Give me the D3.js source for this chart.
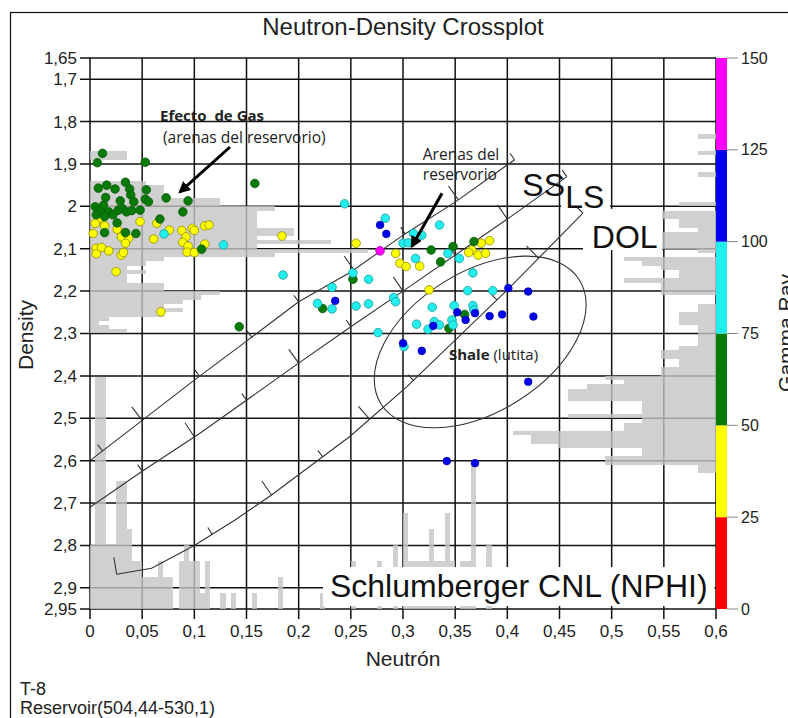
<!DOCTYPE html>
<html>
<head>
<meta charset="utf-8">
<script src="https://cdn.jsdelivr.net/npm/d3@7"></script>
<style>
  body { margin: 0; background: #fff; }
  svg { display: block; font-family: "Liberation Sans", Arial, sans-serif; }
  .note { font-family: "Open Sans", "Noto Sans", sans-serif; white-space: pre; }
</style>
</head>
<body>
<div id="chart"></div>
<script>
// axis ticks
var xTicks = [0, 0.05, 0.1, 0.15, 0.2, 0.25, 0.3, 0.35, 0.4, 0.45, 0.5, 0.55, 0.6];
var yTicks = [1.65, 1.7, 1.8, 1.9, 2, 2.1, 2.2, 2.3, 2.4, 2.5, 2.6, 2.7, 2.8, 2.9, 2.95];
var grTicks = [0, 25, 50, 75, 100, 125, 150];
var grBands = [0, 25, 50, 75, 100, 125];

// points [NPHI, RHOB] by gamma ray band
var ptsYellow = [[0.008,2.031],[0.005,2.040],[0.014,2.046],[0.003,2.064],[0.026,2.054],[0.030,2.072],[0.037,2.075],[0.034,2.087],[0.048,2.036],[0.064,2.040],[0.061,2.077],[0.076,2.056],[0.088,2.057],[0.092,2.072],[0.098,2.052],[0.100,2.057],[0.110,2.046],[0.114,2.044],[0.089,2.085],[0.094,2.094],[0.110,2.089],[0.093,2.108],[0.100,2.109],[0.006,2.099],[0.011,2.097],[0.006,2.112],[0.018,2.105],[0.030,2.115],[0.032,2.109],[0.025,2.154],[0.068,2.249],[0.184,2.070],[0.255,2.087],[0.293,2.111],[0.297,2.134],[0.303,2.142],[0.316,2.141],[0.375,2.087],[0.383,2.081],[0.366,2.103],[0.363,2.109],[0.372,2.115],[0.379,2.111],[0.325,2.197]];
var ptsGreen = [[0.012,1.875],[0.007,1.897],[0.053,1.896],[0.008,1.957],[0.016,1.950],[0.024,1.959],[0.034,1.943],[0.038,1.959],[0.039,1.973],[0.054,1.961],[0.015,1.979],[0.029,1.987],[0.042,1.989],[0.053,1.983],[0.056,1.989],[0.073,1.980],[0.094,1.987],[0.005,2.001],[0.010,2.009],[0.013,1.997],[0.018,2.013],[0.022,2.020],[0.027,2.009],[0.031,2.005],[0.035,2.013],[0.040,2.010],[0.048,2.009],[0.089,2.013],[0.006,2.020],[0.014,2.024],[0.026,2.039],[0.067,2.030],[0.014,2.062],[0.034,2.062],[0.044,2.064],[0.107,2.101],[0.143,2.284],[0.158,1.946],[0.252,2.172],[0.223,2.241],[0.327,2.103],[0.348,2.095],[0.336,2.131],[0.368,2.083],[0.359,2.255],[0.344,2.288]];
var ptsCyan = [[0.071,2.065],[0.128,2.091],[0.244,1.994],[0.185,2.162],[0.252,2.157],[0.267,2.172],[0.232,2.191],[0.218,2.229],[0.232,2.242],[0.255,2.235],[0.267,2.230],[0.283,2.028],[0.310,2.064],[0.335,2.044],[0.300,2.087],[0.305,2.086],[0.318,2.068],[0.343,2.111],[0.354,2.123],[0.312,2.123],[0.367,2.157],[0.362,2.199],[0.386,2.199],[0.291,2.215],[0.293,2.225],[0.328,2.238],[0.349,2.234],[0.367,2.234],[0.368,2.245],[0.313,2.278],[0.330,2.272],[0.335,2.280],[0.324,2.290],[0.347,2.268],[0.348,2.280],[0.276,2.298],[0.301,2.331]];
var ptsBlue = [[0.235,2.223],[0.278,2.044],[0.284,2.065],[0.401,2.193],[0.420,2.201],[0.425,2.260],[0.352,2.250],[0.360,2.268],[0.369,2.252],[0.383,2.259],[0.395,2.255],[0.329,2.282],[0.300,2.323],[0.318,2.341],[0.420,2.414],[0.342,2.601],[0.369,2.606]];
var ptsMagenta = [[0.278,2.105]];

// marginal histograms [bin start, count]
var histLeft = [[1.87,4],[1.88,4],[1.94,6],[1.95,8],[1.96,8],[1.97,8],[1.98,14],[1.99,14],[2.00,20],[2.01,18],[2.02,18],[2.03,18],[2.04,18],[2.05,22],[2.06,22],[2.07,18],[2.08,26],[2.09,18],[2.10,30],[2.11,20],[2.12,8],[2.13,6],[2.14,4],[2.15,6],[2.16,4],[2.17,4],[2.18,8],[2.19,8],[2.20,14],[2.21,12],[2.22,10],[2.23,8],[2.24,10],[2.25,8],[2.26,2],[2.27,1],[2.28,2],[2.29,4]];
var histRight = [[1.83,2],[1.87,2],[1.92,2],[1.99,4],[2.01,10],[2.02,6],[2.03,4],[2.04,4],[2.05,2],[2.06,6],[2.07,6],[2.08,6],[2.09,6],[2.10,2],[2.12,10],[2.13,8],[2.14,6],[2.15,4],[2.16,4],[2.17,10],[2.18,6],[2.19,6],[2.20,6],[2.23,2],[2.24,2],[2.25,4],[2.26,4],[2.27,4],[2.28,2],[2.29,2],[2.30,2],[2.31,2],[2.32,2],[2.33,4],[2.34,6],[2.35,6],[2.36,4],[2.37,4],[2.38,6],[2.39,6],[2.40,12],[2.41,10],[2.42,14],[2.43,16],[2.44,16],[2.45,16],[2.46,8],[2.47,8],[2.48,8],[2.49,16],[2.50,8],[2.51,10],[2.52,10],[2.53,22],[2.54,20],[2.55,20],[2.56,17],[2.57,8],[2.58,8],[2.59,12],[2.60,12],[2.61,2],[2.62,2]];
var histBottom = [[0.000,8],[0.005,29],[0.010,29],[0.015,8],[0.020,8],[0.025,16],[0.030,16],[0.035,10],[0.040,6],[0.045,6],[0.050,4],[0.055,4],[0.060,4],[0.065,6],[0.070,4],[0.075,4],[0.085,6],[0.090,8],[0.095,6],[0.100,6],[0.105,2],[0.110,6],[0.125,2],[0.135,2],[0.155,2],[0.180,4],[0.220,2],[0.250,6],[0.275,6],[0.290,8],[0.300,12],[0.305,6],[0.310,6],[0.315,6],[0.320,6],[0.325,10],[0.330,6],[0.335,6],[0.340,12],[0.345,6],[0.355,6],[0.360,6],[0.365,18],[0.380,8]];

// Schlumberger CNL lithology lines
var lineSS = [[0,2.6],[0.05,2.505],[0.1,2.41],[0.15,2.318],[0.2,2.225],[0.25,2.155],[0.3,2.068],[0.35,1.99],[0.407,1.89]];
var lineLS = [[0,2.71],[0.05,2.625],[0.105,2.536],[0.2,2.37],[0.25,2.284],[0.3,2.2],[0.4,2.03],[0.457,1.93]];
var lineDOL = [[0.0256,2.868],[0.059,2.854],[0.1,2.8],[0.139,2.74],[0.174,2.681],[0.249,2.543],[0.3035,2.426],[0.4,2.197],[0.4725,2.016]];
var ticksSS = [[0.012,0],[0.05,1],[0.105,0],[0.155,0],[0.2,0],[0.253,1],[0.302,0],[0.353,1],[0.407,0]];
var ticksLS = [[0.05,0],[0.1,1],[0.15,0],[0.2,1],[0.25,0],[0.3,1],[0.35,0],[0.4,1],[0.457,0]];
var ticksDOL = [[0.0256,1],[0.117,0],[0.174,1],[0.223,0],[0.268,1],[0.31,0],[0.39,0],[0.43,1],[0.4725,0]];

var width = 788, height = 718;
var margin = { top: 58, right: 72, bottom: 109, left: 90 };
var x = d3.scaleLinear().domain([0, 0.6]).range([margin.left, width - margin.right]);
var y = d3.scaleLinear().domain([1.65, 2.95]).range([margin.top, height - margin.bottom]);
var gr = d3.scaleLinear().domain([0, 150]).range([height - margin.bottom, margin.top]);
var hLen = d3.scaleLinear().domain([0, 30]).range([0, 277.5]);
var vLen = d3.scaleLinear().domain([0, 29]).range([0, 232]);
var grColor = d3.scaleThreshold().domain([25, 50, 75, 100, 125])
  .range(['#ff0000', '#ffff00', '#087a08', '#22eeee', '#0000ee', '#ff00ff']);
var fmt = d3.formatLocale({ decimal: ',', thousands: '.', grouping: [3], currency: ['', ''] }).format('~f');

var svg = d3.select('#chart').append('svg').attr('width', width).attr('height', height);

svg.append('rect').attr('x', 10.5).attr('y', 12.5).attr('width', 900).attr('height', 900)
  .attr('fill', '#fff').attr('stroke', '#111').attr('stroke-width', 1.2);

// grid + ticks
var grid = svg.append('g').attr('stroke', '#111').attr('stroke-width', 1.5);
grid.selectAll('.hy').data(yTicks).enter().append('line')
  .attr('x1', x(0) - 10).attr('x2', x(0.6)).attr('y1', y).attr('y2', y);
grid.selectAll('.vx').data(xTicks).enter().append('line')
  .attr('y1', y(1.65)).attr('y2', y(2.95) + 10).attr('x1', x).attr('x2', x);

svg.append('g').selectAll('text').data(yTicks).enter().append('text')
  .attr('x', x(0) - 13).attr('y', function (d) { return y(d); }).attr('dy', '0.35em')
  .attr('text-anchor', 'end').attr('font-size', 17).attr('fill', '#222').text(fmt);
svg.append('g').selectAll('text').data(xTicks).enter().append('text')
  .attr('x', function (d) { return x(d); }).attr('y', y(2.95) + 28)
  .attr('text-anchor', 'middle').attr('font-size', 17).attr('fill', '#222').text(fmt);

// histograms
var hist = svg.append('g').attr('fill', '#c4c4c4').attr('fill-opacity', 0.8)
  .attr('shape-rendering', 'crispEdges');
hist.selectAll('.hl').data(histLeft).enter().append('rect')
  .attr('x', x(0)).attr('y', function (d) { return Math.round(y(d[0])); })
  .attr('width', function (d) { return hLen(d[1]); })
  .attr('height', function (d) { return Math.round(y(d[0] + 0.01)) - Math.round(y(d[0])); });
hist.selectAll('.hr').data(histRight).enter().append('rect')
  .attr('x', function (d) { return x(0.6) - hLen(d[1]); }).attr('y', function (d) { return Math.round(y(d[0])); })
  .attr('width', function (d) { return hLen(d[1]); })
  .attr('height', function (d) { return Math.round(y(d[0] + 0.01)) - Math.round(y(d[0])); });
hist.selectAll('.hb').data(histBottom).enter().append('rect')
  .attr('x', function (d) { return Math.round(x(d[0])); }).attr('y', function (d) { return y(2.95) - vLen(d[1]); })
  .attr('width', function (d) { return Math.round(x(d[0] + 0.005)) - Math.round(x(d[0])); })
  .attr('height', function (d) { return vLen(d[1]); });

// white boxes behind big labels
var boxes = [[0.4515, 0.4985, 1.907, 2.006], [0.4725, 0.5483, 2.006, 2.103], [0.2233, 0.5985, 2.851, 2.943]];
svg.append('g').selectAll('rect').data(boxes).enter().append('rect')
  .attr('x', function (d) { return x(d[0]); }).attr('y', function (d) { return y(d[2]); })
  .attr('width', function (d) { return x(d[1]) - x(d[0]); })
  .attr('height', function (d) { return y(d[3]) - y(d[2]); })
  .attr('fill', '#fff');

// lithology lines with porosity ticks
var lineGen = d3.line().x(function (d) { return x(d[0]); }).y(function (d) { return y(d[1]); });
var pointOn = function (pts, t) {
  var i = 0;
  while (i < pts.length - 2 && t > pts[i + 1][0]) i++;
  var a = pts[i], b = pts[i + 1];
  var f = (t - a[0]) / (b[0] - a[0]);
  var px = x(a[0] + f * (b[0] - a[0])), py = y(a[1] + f * (b[1] - a[1]));
  var dx = x(b[0]) - x(a[0]), dy = y(b[1]) - y(a[1]);
  var n = Math.sqrt(dx * dx + dy * dy);
  return [px, py, dy / n, -dx / n];
};
var litho = svg.append('g').attr('fill', 'none').attr('stroke', '#333').attr('stroke-width', 1.1);
[[lineSS, ticksSS], [lineLS, ticksLS], [lineDOL, ticksDOL]].forEach(function (pair) {
  litho.append('path').attr('d', lineGen(pair[0]));
  pair[1].forEach(function (tk) {
    var p = pointOn(pair[0], tk[0]);
    var len = tk[1] ? 17 : 8;
    litho.append('line').attr('x1', p[0]).attr('y1', p[1])
      .attr('x2', p[0] + p[2] * len).attr('y2', p[1] + p[3] * len);
  });
});

// shale ellipse
var shaleCenter = [0.374, 2.32];
litho.append('ellipse').attr('cx', x(shaleCenter[0])).attr('cy', y(shaleCenter[1]))
  .attr('rx', 117).attr('ry', 70)
  .attr('transform', 'rotate(-32,' + x(shaleCenter[0]) + ',' + y(shaleCenter[1]) + ')');

// points
var layers = [[ptsYellow, 40, '#8f8a00', 4.3], [ptsGreen, 60, '#0a5a0a', 4.3], [ptsCyan, 85, '#1c9c9c', 4.3],
  [ptsBlue, 110, '#0000b0', 3.8], [ptsMagenta, 135, '#a000a0', 4.3]];
layers.forEach(function (l) {
  svg.append('g').selectAll('circle').data(l[0]).enter().append('circle')
    .attr('cx', function (d) { return x(d[0]); }).attr('cy', function (d) { return y(d[1]); })
    .attr('r', l[3]).attr('fill', grColor(l[1])).attr('stroke', l[2]).attr('stroke-width', 0.8);
});

// big lithology labels
var bigLabels = [['SS', 0.4144, 1.976], ['LS', 0.4555, 2.004], ['DOL', 0.481, 2.098], ['Schlumberger CNL (NPHI)', 0.23, 2.922]];
svg.append('g').selectAll('text').data(bigLabels).enter().append('text')
  .attr('x', function (d) { return x(d[1]); }).attr('y', function (d) { return y(d[2]); })
  .attr('font-size', 32).attr('fill', '#111').text(function (d) { return d[0]; });

// annotations
var defs = svg.append('defs');
defs.append('marker').attr('id', 'arrow').attr('viewBox', '0 0 10 10').attr('refX', 8).attr('refY', 5)
  .attr('markerWidth', 4).attr('markerHeight', 4).attr('orient', 'auto')
  .append('path').attr('d', 'M0,0L10,5L0,10z').attr('fill', '#000');
var arrows = [[0.1342, 1.86, 0.0863, 1.966], [0.3374, 1.969, 0.3086, 2.094]];
svg.append('g').selectAll('line').data(arrows).enter().append('line')
  .attr('x1', function (d) { return x(d[0]); }).attr('y1', function (d) { return y(d[1]); })
  .attr('x2', function (d) { return x(d[2]); }).attr('y2', function (d) { return y(d[3]); })
  .attr('stroke', '#000').attr('stroke-width', 3).attr('marker-end', 'url(#arrow)');

var note = function (txt, nx, ny, size, bold) {
  return svg.append('text').attr('class', 'note').attr('x', x(nx)).attr('y', y(ny))
    .attr('font-size', size).attr('font-weight', bold ? 'bold' : 'normal').attr('fill', '#222').text(txt);
};
note('Efecto  de Gas', 0.0671, 1.799, 15, true);
note('(arenas del reservorio)', 0.07, 1.851, 15.5, false);
note('Arenas del', 0.319, 1.891, 15.5, false);
note('reservorio', 0.319, 1.938, 15.5, false);
var shale = note('', 0.344, 2.363, 15, false);
shale.append('tspan').attr('font-weight', 'bold').text('Shale');
shale.append('tspan').text(' (lutita)');

// gamma ray colour bar
var cb = svg.append('g');
cb.selectAll('rect').data(grBands).enter().append('rect')
  .attr('x', x(0.6)).attr('width', 11)
  .attr('y', function (d) { return gr(d + 25); })
  .attr('height', function (d) { return gr(d) - gr(d + 25); })
  .attr('fill', function (d) { return grColor(d + 1); });
cb.selectAll('line').data(grTicks).enter().append('line')
  .attr('x1', x(0.6) + 11).attr('x2', x(0.6) + 22)
  .attr('y1', gr).attr('y2', gr).attr('stroke', '#888').attr('stroke-width', 1);
cb.selectAll('text').data(grTicks).enter().append('text')
  .attr('x', x(0.6) + 25).attr('y', function (d) { return gr(d); }).attr('dy', '0.35em')
  .attr('font-size', 16).attr('fill', '#222').text(function (d) { return d; });

// titles
svg.append('text').attr('x', 403).attr('y', 35).attr('text-anchor', 'middle')
  .attr('font-size', 24).attr('fill', '#222').text('Neutron-Density Crossplot');
svg.append('text').attr('x', 403).attr('y', 666).attr('text-anchor', 'middle')
  .attr('font-size', 21).attr('fill', '#222').text('Neutrón');
svg.append('text').attr('transform', 'translate(33,335) rotate(-90)').attr('text-anchor', 'middle')
  .attr('font-size', 21).attr('fill', '#222').text('Density');
svg.append('text').attr('transform', 'translate(793,333) rotate(-90)').attr('text-anchor', 'middle')
  .attr('font-size', 21).attr('fill', '#222').text('Gamma Ray');
svg.append('text').attr('x', 20).attr('y', 695).attr('font-size', 18).attr('fill', '#222').text('T-8');
svg.append('text').attr('x', 20).attr('y', 714).attr('font-size', 18).attr('fill', '#222').text('Reservoir(504,44-530,1)');
</script>
</body>
</html>
